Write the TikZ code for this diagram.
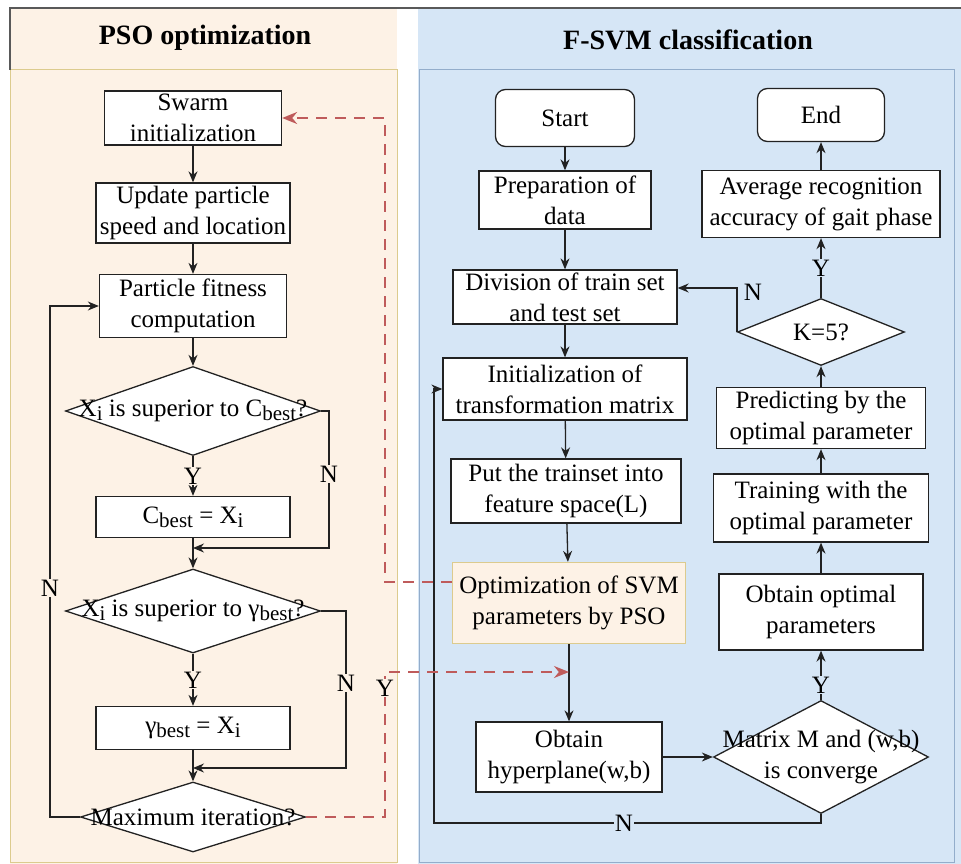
\documentclass[tikz,border=0pt]{standalone}
\usepackage{fontspec}
\setmainfont{Liberation Serif}
\usetikzlibrary{arrows.meta,shapes.geometric}
\definecolor{peach}{HTML}{FDF2E6}
\definecolor{skyb}{HTML}{D6E6F6}
\definecolor{peachline}{HTML}{DCCB8E}
\definecolor{blueline}{HTML}{93ADCB}
\definecolor{dred}{HTML}{BF5B5B}
\definecolor{ink}{HTML}{222222}
\newcommand{\sbs}[1]{\raisebox{-0.35ex}{\fontsize{21}{21}\selectfont #1}}
\begin{document}
\begin{tikzpicture}[x=1pt,y=-1pt,font=\fontsize{25}{31}\selectfont,
  box/.style={draw=ink,line width=1.3pt,fill=white,align=center,inner sep=0pt},
  rbox/.style={box,rounded corners=10pt},
  dia/.style={draw=ink,line width=1.3pt,fill=white,shape=diamond,inner sep=0pt},
  arr/.style={draw=ink,line width=1.3pt,-{Stealth[length=11pt,width=9pt]}},
  darr/.style={draw=dred,line width=2pt,dash pattern=on 11pt off 8pt,-{Stealth[length=15pt,width=12pt]}},
  lblp/.style={inner sep=1pt,fill=peach},
  lblb/.style={inner sep=1pt,fill=skyb},
  head/.style={font=\fontsize{28}{32}\selectfont\bfseries}
]
\useasboundingbox (0,0) rectangle (961,864);
% panels
\fill[peach] (10,8) rectangle (397,864);
\fill[skyb] (418,8) rectangle (961,864);
\draw[peachline,line width=1pt] (10,70) rectangle (397,862);
\draw[blueline,line width=1pt] (419,70) rectangle (954,862);
\draw[black!65,line width=1.2pt] (10,70) -- (10,8) -- (961,8);
\node[head] (h1) at (205,38) {PSO optimization};
\node[head] (h2) at (688,40) {F-SVM classification};

% left column
\node[box,minimum width=177pt,minimum height=54pt] (s1) at (193,118) {Swarm\\initialization};
\node[box,minimum width=194pt,minimum height=60pt] (s2) at (193,213) {Update particle\\speed and location};
\node[box,minimum width=187pt,minimum height=63pt] (s3) at (193,306) {Particle fitness\\computation};
\node[dia,minimum width=255pt,minimum height=89pt] (d1) at (193,411) {\makebox[0pt]{X\sbs{i} is superior to C\sbs{best}?}};
\node[box,minimum width=194pt,minimum height=41pt] (s4) at (193,517) {C\sbs{best} = X\sbs{i}};
\node[dia,minimum width=255pt,minimum height=84pt] (d2) at (193,611) {\makebox[0pt]{X\sbs{i} is superior to γ\sbs{best}?}};
\node[box,minimum width=194pt,minimum height=43pt] (s5) at (193,728) {γ\sbs{best} = X\sbs{i}};
\node[dia,minimum width=225pt,minimum height=70pt] (d3) at (193,817) {\makebox[0pt]{Maximum iteration?}};

\coordinate (c1) at (329,548);
\coordinate (j1) at (193,548);
\coordinate (c2) at (346,768);
\coordinate (j2) at (193,768);
\coordinate (c3) at (50,306);
\coordinate (c4) at (385,672);
\coordinate (j3) at (569,672);
\coordinate (c5) at (385,118);

\draw[arr] (s1) -- (s2);
\draw[arr] (s2) -- (s3);
\draw[arr] (s3) -- (d1);
\draw[arr] (d1) -- (s4);
\draw[arr] (d1.east) -| (c1) -- (j1);
\draw[arr] (s4) -- (d2);
\draw[arr] (d2) -- (s5);
\draw[arr] (d2.east) -| (c2) -- (j2);
\draw[arr] (s5) -- (d3);
\draw[arr] (d3.west) -| (c3) -- (s3.west);

\node[lblp] (y1) at (193,476) {Y};
\node[lblp] (n1) at (329,474) {N};
\node[lblp] (y2) at (193,680) {Y};
\node[lblp] (n2) at (346,683) {N};
\node[lblp] (n3) at (50,588) {N};

% right column
\node[rbox,minimum width=139pt,minimum height=57pt] (r1) at (565,118) {Start};
\node[box,minimum width=172pt,minimum height=58pt] (r2) at (565,200) {Preparation of\\data};
\node[box,minimum width=224pt,minimum height=54pt] (r3) at (565,297) {Division of train set\\and test set};
\node[box,minimum width=244pt,minimum height=62pt] (r4) at (565,389) {Initialization of\\transformation matrix};
\node[box,minimum width=230pt,minimum height=64pt] (r5) at (566,491) {Put the trainset into\\feature space(L)};
\node[box,draw=peachline,fill=peach,minimum width=233pt,minimum height=81pt] (r6) at (569,603) {Optimization of SVM\\parameters by PSO};
\node[box,minimum width=186pt,minimum height=70pt] (r7) at (569,757) {Obtain\\hyperplane(w,b)};
\node[dia,minimum width=215pt,minimum height=113pt] (d4) at (821,757) {\makebox[0pt]{\begin{tabular}{@{}c@{}}Matrix M and (w,b)\\is converge\end{tabular}}};
\node[box,minimum width=204pt,minimum height=76pt] (r8) at (821,612) {Obtain optimal\\parameters};
\node[box,minimum width=215pt,minimum height=68pt] (r9) at (821,508) {Training with the\\optimal parameter};
\node[box,minimum width=209pt,minimum height=61pt] (r10) at (821,418) {Predicting by the\\optimal parameter};
\node[dia,minimum width=167pt,minimum height=67pt] (d5) at (821,332) {\makebox[0pt]{K=5?}};
\node[box,minimum width=238pt,minimum height=67pt] (r11) at (821,204) {Average recognition\\accuracy of gait phase};
\node[rbox,minimum width=127pt,minimum height=53pt] (r12) at (821,115) {End};

\coordinate (c6) at (821,823);
\coordinate (c7) at (434,389);

\draw[arr] (r1) -- (r2);
\draw[arr] (r2) -- (r3);
\draw[arr] (r3) -- (r4);
\draw[arr] (r4) -- (r5);
\draw[arr] (r5) -- (r6);
\draw[arr] (r6) -- (r7);
\draw[arr] (r7) -- (d4);
\draw[arr] (d4) -- (r8);
\draw[arr] (r8) -- (r9);
\draw[arr] (r9) -- (r10);
\draw[arr] (r10) -- (d5);
\draw[arr] (d5) -- (r11);
\draw[arr] (r11) -- (r12);
\draw[arr] (d5.west) |- ([yshift=9pt]r3.east);
\draw[arr] (d4.south) -- (c6) -| (c7) -- (r4.west);

\node[lblb] (y3) at (821,685) {Y};
\node[lblb] (y4) at (821,268) {Y};
\node[lblb] (n4) at (624,823) {N};
\node[inner sep=1pt] (n5) at (753,292) {N};

% PSO links
\draw[darr] ([yshift=21pt]r6.west) -| (c5) -- (s1.east);
\draw[darr] (d3.east) -| (c4) -- (j3);
\node[lblp] (y5) at (385,688) {Y};
\end{tikzpicture}
\end{document}
